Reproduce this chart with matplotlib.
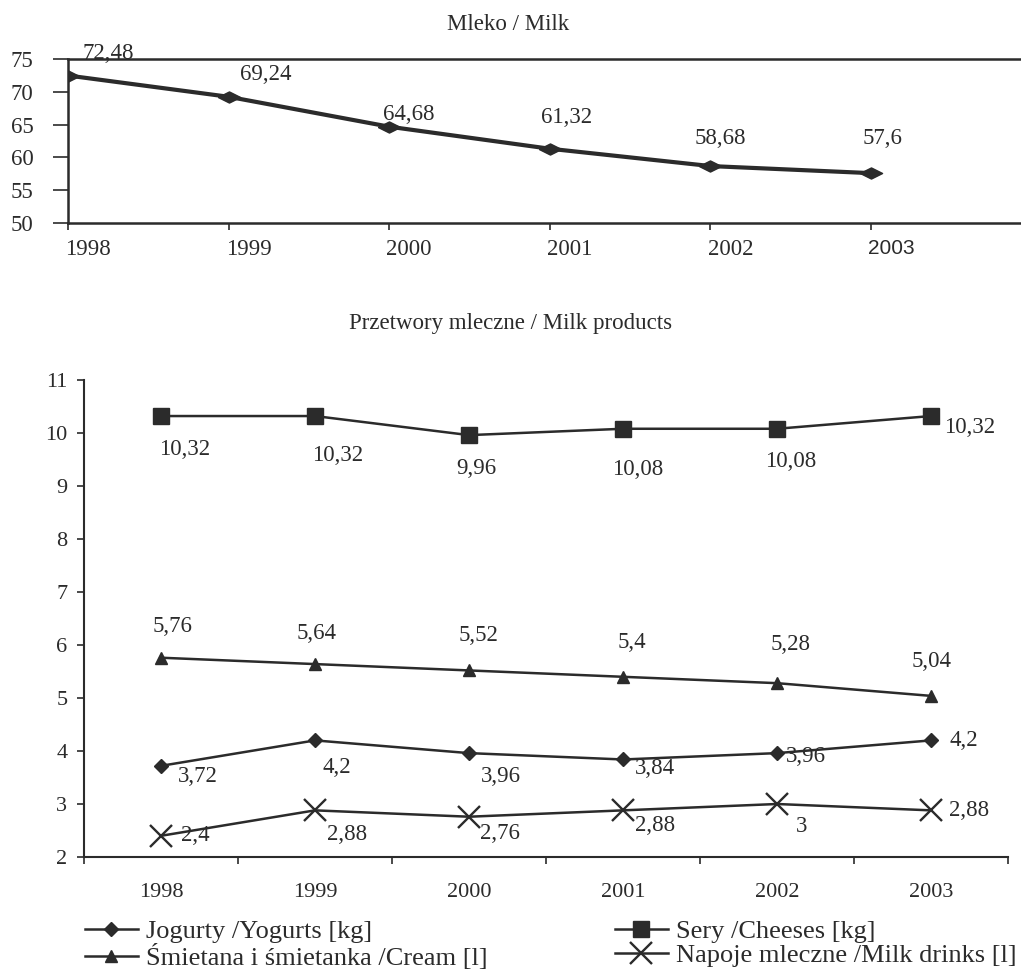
import matplotlib
matplotlib.use('Agg')
import matplotlib.pyplot as plt
from matplotlib.transforms import ScaledTranslation
import numpy as np

# ---------------- data ----------------
years = [1998, 1999, 2000, 2001, 2002, 2003]
year_labels = ['1998', '1999', '2000', '2001', '2002', '2003']

milk = [72.48, 69.24, 64.68, 61.32, 58.68, 57.6]

yogurts = [3.72, 4.2, 3.96, 3.84, 3.96, 4.2]
cheeses = [10.32, 10.32, 9.96, 10.08, 10.08, 10.32]
cream = [5.76, 5.64, 5.52, 5.4, 5.28, 5.04]
drinks = [2.4, 2.88, 2.76, 2.88, 3, 2.88]

name_yog = 'Jogurty /Yogurts [kg]'
name_cheese = 'Sery /Cheeses [kg]'
name_cream = 'Śmietana i śmietanka /Cream [l]'
name_drinks = 'Napoje mleczne /Milk drinks [l]'

title_milk = 'Mleko / Milk'
title_products = 'Przetwory mleczne / Milk products'

# label offsets in pixels (dx right, dy up) -- styling only
milk_off = [(40, 22), (37, 22), (20, 12), (17, 31), (10, 28), (11, 35)]
cheese_off = [(24, -33), (23, -39), (7, -33), (15, -41), (14, -33), (39, -11)]
cream_off = [(11, 31), (2, 31), (10, 35), (9, 34), (14, 39), (1, 34)]
yog_off = [(37, -11), (22, -27), (32, -23), (32, -9), (29, -3), (33, 0)]
drink_off = [(34, 0), (32, -24), (31, -17), (32, -15), (25, -22), (38, 0)]


def fmt(v):
    return f"{v:g}".replace('.', ',')


plt.rcParams['font.family'] = ['Liberation Serif', 'DejaVu Serif']
INK = '#2b2b2b'
GRID = '#5a5a5a'
plt.rcParams['text.color'] = INK
plt.rcParams['xtick.color'] = INK
plt.rcParams['ytick.color'] = INK

W, H = 1021, 974
fig = plt.figure(figsize=(W / 100, H / 100), dpi=100)

# ---------------- top panel ----------------
ax1 = fig.add_axes([68 / W, 1 - 223 / H, (W - 68) / W, (223 - 59) / H])
diamond_flat = [(-1, 0), (0, 0.5), (1, 0), (0, -0.5), (-1, 0)]
ax1.plot(years, milk, color=INK, lw=3, marker=diamond_flat, markersize=16,
         markerfacecolor=INK, markeredgecolor=INK, zorder=3)
for x, v, (dx, dy) in zip(years, milk, milk_off):
    ax1.annotate(fmt(v), (x, v), xytext=(dx, dy), textcoords='offset pixels',
                 ha='center', va='center', fontsize=16.5, color=INK)
ax1.set_xlim(1998, 1998 + (W - 68) / 160.6)
ax1.set_ylim(50, 75)
ax1.set_yticks([50, 55, 60, 65, 70, 75])
ax1.set_yticks([55, 60, 65, 70], minor=True)
ax1.tick_params(axis='y', which='minor', length=0)
ax1.grid(axis='y', which='minor', color=GRID, lw=1.1)
ax1.set_xticks(years)
ax1.set_xticklabels(year_labels)
ax1.tick_params(axis='y', which='major', length=11, width=1.2, pad=14, labelsize=16.5)
ax1.tick_params(axis='x', length=5, width=1.2, pad=6.5, labelsize=16.5)
for s in ['left', 'bottom', 'top']:
    ax1.spines[s].set_linewidth(1.8)
    ax1.spines[s].set_color(INK)
ax1.spines['right'].set_visible(False)
shift = ScaledTranslation(20 / 100, 0, fig.dpi_scale_trans)
xl = ax1.get_xticklabels()
for lbl in xl:
    lbl.set_transform(lbl.get_transform() + shift)
xl[-1].set_fontfamily('Liberation Sans')
xl[-1].set_fontsize(15)

fig.text(508 / W, 1 - 25 / H, title_milk, ha='center', va='center', fontsize=16.5)
fig.text(511 / W, 1 - 324 / H, title_products, ha='center', va='center', fontsize=16.5)

# ---------------- bottom panel ----------------
ax2 = fig.add_axes([84 / W, 1 - 857 / H, (1008 - 84) / W, (857 - 380) / H])
xs = np.arange(len(years))
h_yog, = ax2.plot(xs, yogurts, color=INK, lw=1.8, marker='D', markersize=7.5,
                  markerfacecolor=INK, markeredgecolor=INK, label=name_yog, zorder=3)
h_cheese, = ax2.plot(xs, cheeses, color=INK, lw=1.8, marker='s', markersize=11.5,
                     markerfacecolor=INK, markeredgecolor=INK, label=name_cheese, zorder=3)
h_cream, = ax2.plot(xs, cream, color=INK, lw=1.8, marker='^', markersize=9,
                    markerfacecolor=INK, markeredgecolor=INK, label=name_cream, zorder=3)
h_drinks, = ax2.plot(xs, drinks, color=INK, lw=1.8, marker='x', markersize=16,
                     markeredgewidth=1.7, markeredgecolor=INK, label=name_drinks, zorder=3)

for vals, offs in [(yogurts, yog_off), (cheeses, cheese_off), (cream, cream_off), (drinks, drink_off)]:
    for x, v, (dx, dy) in zip(xs, vals, offs):
        ax2.annotate(fmt(v), (x, v), xytext=(dx, dy), textcoords='offset pixels',
                     ha='center', va='center', fontsize=16.5, color=INK)

ax2.set_xlim(-0.5, len(years) - 0.5)
ax2.set_ylim(2, 11)
ax2.set_yticks(np.arange(2, 12))
ax2.set_yticks(np.arange(3, 11), minor=True)
ax2.yaxis.set_tick_params(which='minor', length=0)
ax2.grid(axis='y', which='minor', color=GRID, lw=1.1)
ax2.tick_params(axis='y', which='major', length=5, width=1.2, pad=7, labelsize=16)
ax2.set_xticks(xs)
ax2.set_xticklabels(year_labels)
ax2.set_xticks(np.arange(-0.5, len(years)), minor=True)
ax2.tick_params(axis='x', which='major', length=0, pad=19, labelsize=16)
ax2.tick_params(axis='x', which='minor', length=5, width=1.2)
for s in ['left', 'bottom']:
    ax2.spines[s].set_linewidth(1.5)
    ax2.spines[s].set_color(INK)
ax2.spines['right'].set_visible(False)
ax2.spines['top'].set_visible(False)

# ---------------- legend ----------------
leg_kw = dict(loc='upper left', frameon=False, borderpad=0, borderaxespad=0,
              handlelength=2.0, handletextpad=0.3, labelspacing=0.02, fontsize=19,
              numpoints=1)
leg1 = fig.legend(handles=[h_yog, h_cream], bbox_to_anchor=(85 / W, 1 - 920 / H), **leg_kw)
leg2 = fig.legend(handles=[h_cheese, h_drinks], bbox_to_anchor=(615 / W, 1 - 920 / H), **leg_kw)

fig.savefig('out.png', dpi=100)
